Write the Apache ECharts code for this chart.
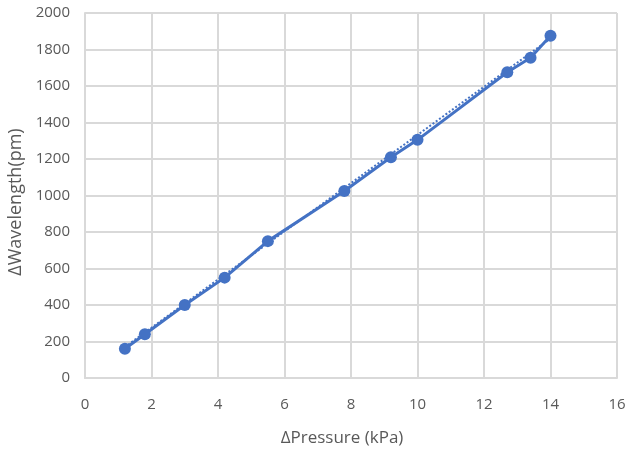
<!DOCTYPE html>
<html><head><meta charset="utf-8">
<script src="https://cdn.jsdelivr.net/npm/echarts@6/dist/echarts.min.js"></script>
<style>html,body{margin:0;padding:0;background:#fff}#c{width:627px;height:452px}</style>
</head><body><div id="c"></div>
<script>
const pressure = [1.2, 1.8, 3.0, 4.2, 5.5, 7.8, 9.2, 10.0, 12.7, 13.4, 14.0];
const wavelength = [160, 240, 400, 550, 750, 1025, 1210, 1305, 1675, 1755, 1875];
const trendX = [1.2, 14.0];
const trendY = [170, 1860];
const xTitle = 'ΔPressure (kPa)';
const yTitle = 'ΔWavelength(pm)';

const chart = echarts.init(document.getElementById('c'));
const font = "'Open Sans', 'Noto Sans', sans-serif";
chart.setOption({
  animation: false,
  grid: {left: 85, right: 10, top: 13, bottom: 74, outerBoundsMode: 'none', containLabel: false},
  graphic: [{
    type: 'text', x: 16, y: 202, rotation: Math.PI / 2,
    style: {text: yTitle, fill: '#595959', fontSize: 18, fontFamily: font, align: 'center', verticalAlign: 'middle'}
  }],
  xAxis: {
    type: 'value', min: 0, max: 16, interval: 2,
    name: xTitle, nameLocation: 'middle', nameGap: 52,
    nameTextStyle: {color: '#595959', fontSize: 17, fontFamily: font, padding: [0, 18, 0, 0]},
    axisLine: {show: true, lineStyle: {color: '#d9d9d9', width: 2}},
    axisTick: {show: false},
    axisLabel: {color: '#595959', fontSize: 15, fontFamily: font, margin: 19},
    splitLine: {show: true, lineStyle: {color: '#d9d9d9', width: 2}}
  },
  yAxis: {
    type: 'value', min: 0, max: 2000, interval: 200,
    axisLine: {show: true, lineStyle: {color: '#d9d9d9', width: 2}},
    axisTick: {show: false},
    axisLabel: {color: '#595959', fontSize: 15, fontFamily: font, margin: 15, formatter: v => String(v)},
    splitLine: {show: true, lineStyle: {color: '#d9d9d9', width: 2}}
  },
  series: [
    {
      type: 'line',
      data: trendX.map((x, i) => [x, trendY[i]]),
      symbol: 'none',
      lineStyle: {color: '#4472C4', width: 2, type: 'dotted'},
      z: 1
    },
    {
      type: 'line',
      data: pressure.map((x, i) => [x, wavelength[i]]),
      symbol: 'circle', symbolSize: 12,
      itemStyle: {color: '#4472C4'},
      lineStyle: {color: '#4472C4', width: 3},
      z: 2
    }
  ]
});
</script></body></html>
